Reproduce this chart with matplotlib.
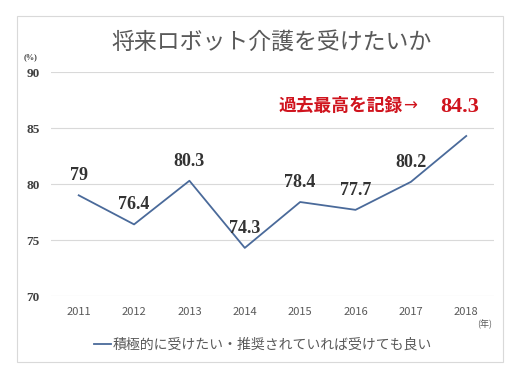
import matplotlib
matplotlib.use('Agg')
import matplotlib.pyplot as plt
from matplotlib.patches import Rectangle

plt.rcParams['font.family'] = ['Noto Sans CJK JP', 'DejaVu Sans']

years = ['2011', '2012', '2013', '2014', '2015', '2016', '2017', '2018']
values = [79, 76.4, 80.3, 74.3, 78.4, 77.7, 80.2, 84.3]
labels = ['79', '76.4', '80.3', '74.3', '78.4', '77.7', '80.2', '84.3']
yticks = [70, 75, 80, 85, 90]

line_color = '#4a6a9a'
gray = '#595959'
red = '#d0141e'

fig = plt.figure(figsize=(5.26, 3.8), dpi=100)
fig.patch.set_facecolor('white')
fig.add_artist(Rectangle((0.032, 0.047), 0.924, 0.911, transform=fig.transFigure,
                         fill=False, edgecolor='#d9d9d9', linewidth=0.8))

ax = fig.add_axes([0.097, 0.221, 0.842, 0.589])
x = list(range(len(years)))
ax.plot(x, values, color=line_color, linewidth=1.3,
        label='積極的に受けたい・推奨されていれば受けても良い')

ax.set_xlim(-0.5, len(years) - 0.5)
ax.set_ylim(70, 90)
ax.set_yticks(yticks)
ax.set_yticklabels([str(t) for t in yticks], family='Liberation Serif',
                   fontweight='bold', fontsize=9.5, color='#404040')
ax.set_xticks(x)
ax.set_xticklabels(years, fontsize=8, color=gray)
ax.tick_params(length=0)
ax.tick_params(axis='y', pad=8)
ax.tick_params(axis='x', pad=8)
ax.grid(axis='y', color='#d9d9d9', linewidth=0.8)
ax.set_axisbelow(True)
for s in ax.spines.values():
    s.set_visible(False)

# data labels (last one is the highlighted record)
for i, (v, lab) in enumerate(zip(values[:-1], labels[:-1])):
    ax.annotate(lab, (i, v), xytext=(0, 8), textcoords='offset points',
                ha='center', va='bottom', family='Liberation Serif',
                fontweight='bold', fontsize=13, color='#333333')

fig.text(0.516, 0.889, '将来ロボット介護を受けたいか', ha='center', va='center',
         fontsize=16.5, color=gray)
fig.text(0.058, 0.85, '(%)', ha='center', va='center', fontsize=6,
         family='Liberation Serif', fontweight='bold', color='#404040')
fig.text(0.922, 0.145, '(年)', ha='center', va='center', fontsize=6.5, color=gray)

fig.text(0.765, 0.72, '過去最高を記録', ha='right', va='center',
         fontsize=12.8, fontweight='bold', color=red)
fig.text(0.767, 0.722, '→', ha='left', va='center',
         fontsize=12, family='DejaVu Sans', color=red)
fig.text(0.873, 0.718, labels[-1], ha='center', va='center', fontsize=16,
         family='Liberation Serif', fontweight='bold', color=red)

leg = ax.legend(loc='center', bbox_to_anchor=(0.5, 0.092),
                bbox_transform=fig.transFigure, frameon=False,
                handlelength=1.2, handletextpad=0.1, fontsize=10)
for t in leg.get_texts():
    t.set_color(gray)

fig.savefig('out.png', dpi=100)
